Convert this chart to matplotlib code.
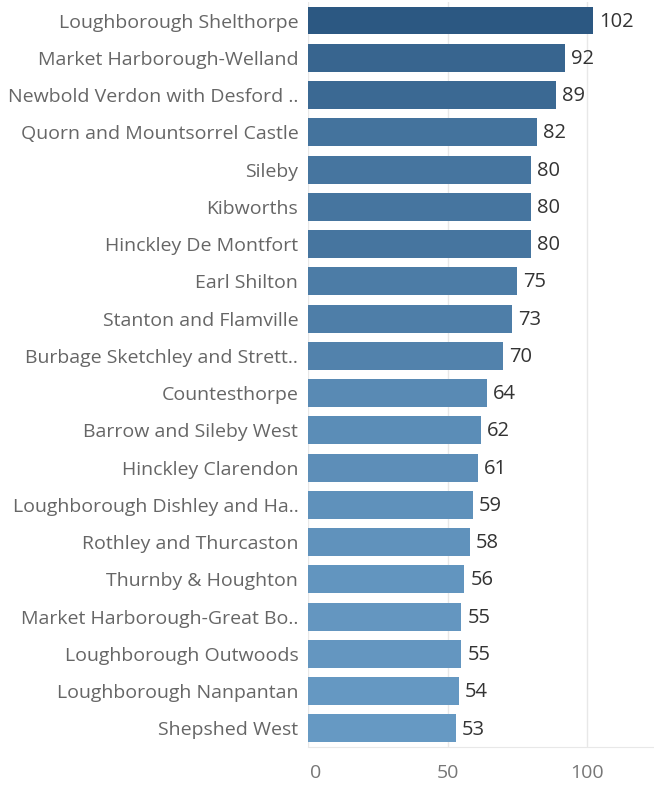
import numpy as np
import matplotlib
matplotlib.use("Agg")
import matplotlib.pyplot as plt
from matplotlib.colors import to_rgb
from matplotlib.transforms import ScaledTranslation

# Datos (de arriba hacia abajo)
barrios = [
    "Loughborough Shelthorpe",
    "Market Harborough-Welland",
    "Newbold Verdon with Desford ..",
    "Quorn and Mountsorrel Castle",
    "Sileby",
    "Kibworths",
    "Hinckley De Montfort",
    "Earl Shilton",
    "Stanton and Flamville",
    "Burbage Sketchley and Strett..",
    "Countesthorpe",
    "Barrow and Sileby West",
    "Hinckley Clarendon",
    "Loughborough Dishley and Ha..",
    "Rothley and Thurcaston",
    "Thurnby & Houghton",
    "Market Harborough-Great Bo..",
    "Loughborough Outwoods",
    "Loughborough Nanpantan",
    "Shepshed West",
]
valores = [102, 92, 89, 82, 80, 80, 80, 75, 73, 70, 64, 62, 61, 59, 58, 56, 55, 55, 54, 53]
ticks_x = [0, 50, 100]

plt.rcParams["font.family"] = ["Open Sans", "DejaVu Sans"]

fig = plt.figure(figsize=(6.54, 7.86), dpi=100)
ax = fig.add_axes([0.471, 0.0496, 0.529, 0.948])

# color secuencial segun el valor
c_hi = np.array(to_rgb("#2c5882"))
c_lo = np.array(to_rgb("#6699c3"))
v = np.array(valores, dtype=float)
t = (v - v.min()) / (v.max() - v.min())
colores = [tuple(c_lo + (c_hi - c_lo) * ti) for ti in t]

y = np.arange(len(barrios))
ax.barh(y, valores, height=0.75, color=colores, zorder=2)
for yi, val in zip(y, valores):
    ax.text(val + 2.2, yi + 0.03, str(val), va="center", ha="left",
            fontsize=14.5, color="#333333")

ax.set_ylim(len(barrios) - 0.5, -0.5)
ax.set_xlim(0, 124)
ax.set_yticks(y)
ax.set_yticklabels(barrios, fontsize=14, color="#666666")
ax.set_xticks(ticks_x)
ax.set_xticklabels([str(x) for x in ticks_x], fontsize=14, color="#777777")
ax.tick_params(axis="y", length=0, pad=7)
ax.tick_params(axis="x", length=0, pad=12)

# el "0" se corre un poco a la derecha como en Tableau
lbl0 = ax.get_xticklabels()[0]
lbl0.set_transform(lbl0.get_transform() + ScaledTranslation(0.08, 0, fig.dpi_scale_trans))

for xv in ticks_x:
    ax.axvline(xv, color="#e8e8e8", linewidth=1, zorder=1)
for s in ["top", "right", "left"]:
    ax.spines[s].set_visible(False)
ax.spines["bottom"].set_color("#e8e8e8")

fig.savefig("out.png", dpi=100, facecolor="white")
